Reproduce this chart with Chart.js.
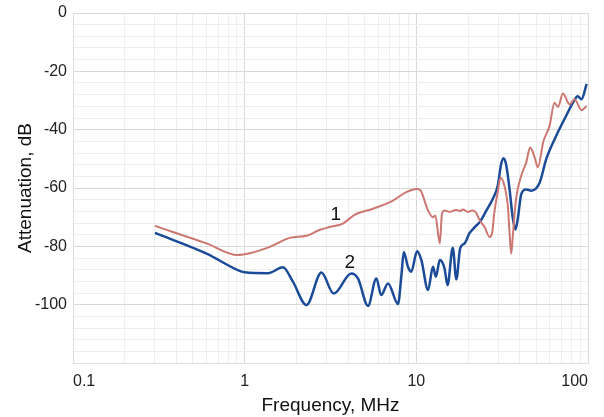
<!DOCTYPE html>
<html>
<head>
<meta charset="utf-8">
<script src="https://cdn.jsdelivr.net/npm/chart.js@4/dist/chart.umd.min.js"></script>
<style>
  html, body { margin: 0; padding: 0; background: #fff; }
  #wrap { width: 604px; height: 417px; }
</style>
</head>
<body>
<div id="wrap"><canvas id="chart"></canvas></div>
<script>
// Curve 1 (red) - frequency MHz / attenuation dB
const freq1 = [0.30, 0.60, 0.91, 1.07, 1.40, 1.83, 2.29, 2.7, 3.13, 3.73, 4.37, 5.59, 7.31, 8.74, 10.1, 10.6,
  11.7, 12.5, 12.9, 13.7, 14.1, 14.6, 15.6, 17.1, 17.9, 18.7, 20.0, 21.3, 22.3, 23.4, 25.0, 26.7, 27.6, 28.5,
  29.8, 30.9, 32.6, 34.1, 34.9, 35.7, 36.5, 38.1, 40.9, 43.7, 46.0, 48.9, 51.0, 55.0, 59.7, 63.8, 66.8, 71.5,
  78.0, 83.5, 91.6, 98.2];
const atten1 = [-73.0, -79.0, -83.0, -82.4, -80.2, -77.1, -76.4, -74.5, -73.4, -72.2, -69.2, -67.1, -64.3, -61.4, -60.3, -60.9,
  -67.7, -70.0, -69.4, -79.0, -68.8, -67.7, -68.2, -67.5, -67.9, -67.4, -68.2, -67.7, -68.5, -71.1, -73.4, -76.8, -75.6, -68.2,
  -61.4, -56.5, -59.2, -66.0, -75.1, -82.5, -76.2, -63.7, -55.7, -51.2, -46.1, -49.5, -52.9, -44.0, -38.7, -30.8, -32.2, -27.6,
  -31.3, -29.6, -33.3, -31.9];

// Curve 2 (blue)
const freq2 = [0.30, 0.60, 0.95, 1.0, 1.37, 1.67, 1.91, 2.29, 2.80, 3.3, 4.18, 4.57, 5.23, 5.85, 6.24, 6.84, 7.82,
  8.19, 8.45, 8.93, 9.34, 10.1, 10.7, 11.7, 12.5, 13.0, 13.7, 14.6, 15.2, 16.3, 17.1, 18.0, 19.1, 20.4, 21.9,
  23.4, 25.6, 27.9, 29.8, 31.2, 32.2, 33.3, 34.9, 36.5, 37.8, 39.0, 40.9, 43.7, 46.7, 52.2, 57.1, 65.3, 74.5,
  81.6, 87.1, 91.6, 98.2];
const atten2 = [-75.4, -82.5, -88.6, -88.9, -89.2, -87.2, -92.1, -100.1, -89.0, -96.2, -89.3, -91.0, -100.4, -91.0, -96.7, -92.7, -99.8,
  -89.8, -81.9, -87.0, -88.7, -81.7, -84.7, -95.0, -87.0, -90.4, -84.7, -87.6, -93.3, -80.5, -91.3, -80.7, -79.0, -75.5, -73.4,
  -71.7, -67.7, -63.7, -59.2, -51.8, -49.8, -51.8, -60.3, -70.5, -74.2, -70.5, -62.0, -60.5, -60.9, -58.3, -50.1, -42.1, -35.3,
  -30.8, -28.5, -29.6, -24.3];

// Curve labels
const curveNames = ['1', '2'];
const curveLabelFreq = [3.4, 4.1];
const curveLabelAtten = [-69.2, -85.6];

const xDecades = [0.1, 1, 10, 100];
const yLabels = [0, -20, -40, -60, -80, -100];

const toPoints = (xs, ys) => xs.map((x, i) => ({ x: x, y: ys[i] }));

// draws "1" and "2" next to the curves
const curveLabels = {
  id: 'curveLabels',
  afterDatasetsDraw(chart) {
    const ctx = chart.ctx;
    const xs = chart.scales.x, ys = chart.scales.y;
    ctx.save();
    ctx.font = '19px "Liberation Sans", Arial, sans-serif';
    ctx.fillStyle = '#111';
    ctx.textAlign = 'center';
    ctx.textBaseline = 'middle';
    curveNames.forEach((name, i) => {
      ctx.fillText(name, xs.getPixelForValue(curveLabelFreq[i]), ys.getPixelForValue(curveLabelAtten[i]));
    });
    ctx.restore();
  }
};

const font = { family: '"Liberation Sans", Arial, sans-serif', size: 16 };

new Chart(document.getElementById('chart'), {
  type: 'line',
  data: {
    datasets: [
      {
        data: toPoints(freq1, atten1),
        borderColor: '#cc7772',
        borderWidth: 2,
        pointRadius: 0,
        cubicInterpolationMode: 'monotone'
      },
      {
        data: toPoints(freq2, atten2),
        borderColor: '#1b4b98',
        borderWidth: 2.5,
        pointRadius: 0,
        cubicInterpolationMode: 'monotone'
      }
    ]
  },
  options: {
    responsive: true,
    maintainAspectRatio: false,
    animation: false,
    layout: { padding: { top: 13, right: 16, left: 14, bottom: 0 } },
    plugins: { legend: { display: false }, tooltip: { enabled: false } },
    scales: {
      x: {
        type: 'logarithmic',
        min: 0.1,
        max: 100,
        afterBuildTicks(scale) {
          const t = [];
          for (let d = 0.1; d < 100; d *= 10) {
            for (let m = 1; m < 10; m++) t.push({ value: +(d * m).toPrecision(3) });
          }
          t.push({ value: 100 });
          scale.ticks = t;
        },
        afterFit(scale) { scale.height = 54; },
        border: { color: '#dddddd' },
        grid: {
          color: c => xDecades.includes(c.tick.value) ? '#d9d9d9' : '#eeeeee',
          drawTicks: false
        },
        ticks: {
          autoSkip: false,
          maxRotation: 0,
          align: 'inner',
          padding: 9,
          color: '#222',
          font: font,
          callback: v => xDecades.includes(v) ? String(v) : ''
        },
        title: {
          display: true,
          text: 'Frequency, MHz',
          color: '#111',
          font: { family: font.family, size: 19 },
          padding: { top: 4, bottom: 0 }
        }
      },
      y: {
        min: -120,
        max: 0,
        afterFit(scale) {
          scale.width = 59;
          scale.paddingTop = 0;
          scale.paddingBottom = 0;
        },
        border: { color: '#dddddd' },
        grid: {
          color: c => c.tick.value % 20 === 0 ? '#d9d9d9' : '#eeeeee',
          drawTicks: false
        },
        ticks: {
          stepSize: 4,
          autoSkip: false,
          padding: 6,
          color: '#222',
          font: font,
          callback: v => yLabels.includes(v) ? String(v) : ''
        },
        title: {
          display: true,
          text: 'Attenuation, dB',
          color: '#111',
          font: { family: font.family, size: 19 },
          padding: { top: 0, bottom: 4 }
        }
      }
    }
  },
  plugins: [curveLabels]
});
</script>
</body>
</html>
